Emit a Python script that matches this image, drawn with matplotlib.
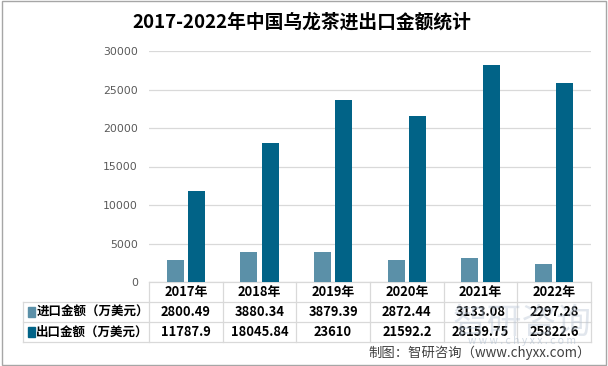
import matplotlib
matplotlib.use("Agg")
import matplotlib.pyplot as plt
import matplotlib.patches as mpatches
from matplotlib.lines import Line2D
import numpy as np

plt.rcParams["font.family"] = ["Noto Sans CJK SC", "DejaVu Sans"]

years = ["2017年", "2018年", "2019年", "2020年", "2021年", "2022年"]
import_vals = [2800.49, 3880.34, 3879.39, 2872.44, 3133.08, 2297.28]
export_vals = [11787.9, 18045.84, 23610, 21592.2, 28159.75, 25822.6]
import_text = ["2800.49", "3880.34", "3879.39", "2872.44", "3133.08", "2297.28"]
export_text = ["11787.9", "18045.84", "23610", "21592.2", "28159.75", "25822.6"]
series_names = ["进口金额（万美元）", "出口金额（万美元）"]
colors = ["#5b90a8", "#016387"]
yticks = [0, 5000, 10000, 15000, 20000, 25000, 30000]

W, H = 608, 366
fig = plt.figure(figsize=(W / 100, H / 100), dpi=100)

# plot area in pixels
left, right, top, bottom = 149, 591, 51, 282
ax = fig.add_axes([left / W, 1 - bottom / H, (right - left) / W, (bottom - top) / H])

x = np.arange(len(years))
bw = 0.23
ax.bar(x - 0.143, import_vals, width=bw, color=colors[0], zorder=3)
ax.bar(x + 0.143, export_vals, width=bw, color=colors[1], zorder=3)

ax.set_xlim(-0.5, len(years) - 0.5)
ax.set_ylim(0, 30000)
ax.set_yticks(yticks)
ax.set_yticklabels([str(v) for v in yticks], fontsize=7.8, color="#595959",
                   family=["DejaVu Sans"])
ax.tick_params(axis="y", length=0, pad=8)
ax.set_xticks([])
ax.grid(axis="y", color="#d9d9d9", linewidth=0.9, zorder=0)
for s in ax.spines.values():
    s.set_visible(False)

# --- data table under the axes ---
px_h = bottom - top
row_h = 20 / px_h
col_px = (right - left) / len(years)
lab_left = -0.5 - (left - 23) / col_px
xt = ax.get_xaxis_transform()
line_kw = dict(color="#d9d9d9", linewidth=0.9, transform=xt, clip_on=False)

ys = [0, -row_h, -2 * row_h, -3 * row_h]
# horizontal lines
ax.add_line(Line2D([-0.5, len(years) - 0.5], [0, 0], **line_kw))
for yy in ys[1:]:
    ax.add_line(Line2D([lab_left, len(years) - 0.5], [yy, yy], **line_kw))
# vertical lines
for i in range(len(years) + 1):
    ax.add_line(Line2D([i - 0.5, i - 0.5], [0, ys[-1]], **line_kw))
ax.add_line(Line2D([lab_left, lab_left], [ys[1], ys[-1]], **line_kw))

tkw = dict(transform=xt, ha="center", va="center", fontsize=9.3, fontweight="bold",
           clip_on=False)
for i, yr in enumerate(years):
    ax.text(i, -0.5 * row_h, yr, **tkw)
    ax.text(i, -1.5 * row_h, import_text[i], **tkw)
    ax.text(i, -2.5 * row_h, export_text[i], **tkw)

for r, (name, c) in enumerate(zip(series_names, colors)):
    yc = -(1.5 + r) * row_h
    ax.add_patch(mpatches.Rectangle((lab_left + 0.07, yc - 0.022), 0.09, 0.044,
                                    transform=xt, color=c, clip_on=False))
    ax.text(lab_left + 0.18, yc, name, transform=xt, ha="left", va="center",
            fontsize=9, fontweight="bold", clip_on=False)

# title
fig.text(302 / W, 1 - 22 / H, "2017-2022年中国乌龙茶进出口金额统计",
         ha="center", va="center", fontsize=13.5, fontweight="bold")

# watermark
fig.text(522 / W, 1 - 323 / H, "智研咨询", ha="center", va="center",
         fontsize=25, color="#b4c2d2", alpha=0.4)
fig.text(522 / W, 1 - 341 / H, "w w w . c h y x x . c o m", ha="center",
         va="center", fontsize=7.5, color="#b4c2d2", alpha=0.6)

# source
fig.text(591 / W, 1 - 353 / H, "制图：智研咨询（www.chyxx.com）", ha="right",
         va="center", fontsize=9.6, color="#404040")

# outer frame
fig.add_artist(mpatches.Rectangle((0.003, 0.003), 0.994, 0.994, transform=fig.transFigure,
                                  fill=False, edgecolor="#a6a6a6", linewidth=1))

fig.savefig("out.png", dpi=100)
